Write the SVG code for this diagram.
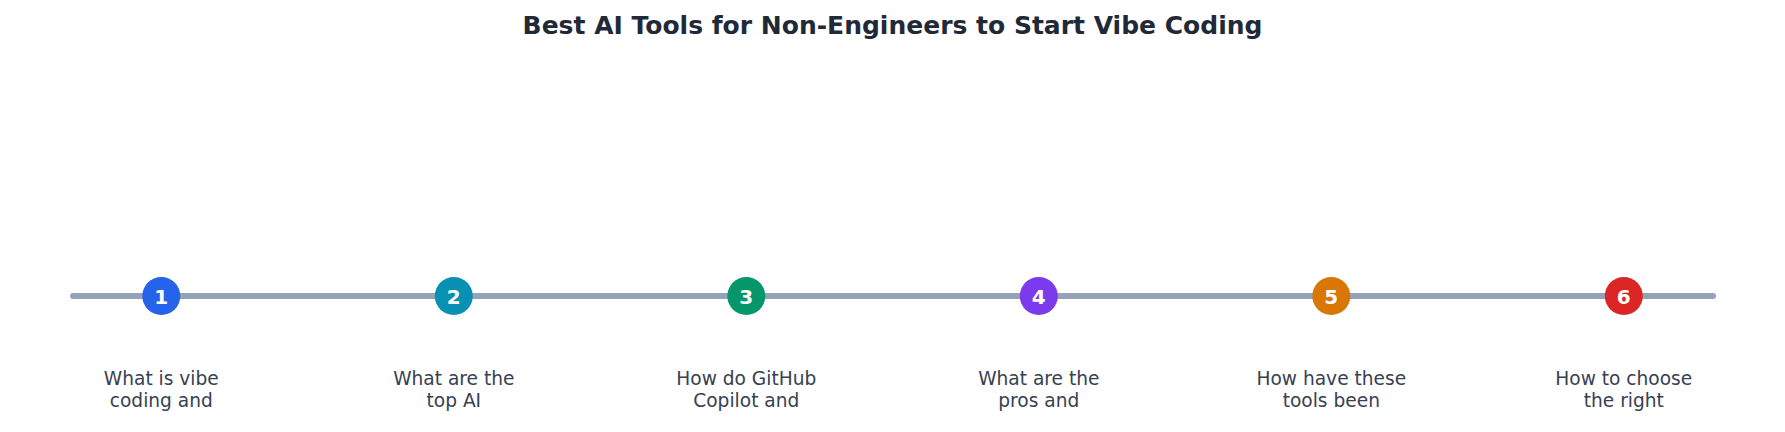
<svg xmlns="http://www.w3.org/2000/svg" width="1785" height="432" viewBox="0 0 1785 432">
<style>
.title{font-family:"DejaVu Sans",sans-serif;font-weight:bold;font-size:25px;fill:#1f2937;text-anchor:middle}
.num{font-family:"DejaVu Sans",sans-serif;font-weight:bold;font-size:20px;fill:#ffffff;text-anchor:middle;dominant-baseline:central}
.lbl{font-family:"DejaVu Sans",sans-serif;font-size:18.6px;fill:#374151;text-anchor:middle}
.dot{r:19px}
</style>
<rect width="1785" height="432" fill="#ffffff"/>
<text class="title" x="892.5" y="34">Best AI Tools for Non-Engineers to Start Vibe Coding</text>
<g id="connectors">
<line x1="73" y1="296" x2="1713" y2="296" stroke="#94a3b8" stroke-width="6" stroke-linecap="round"/>
</g>
<g id="node1">
<circle cx="161.3" cy="296" r="19" fill="#2563eb"/>
<text class="num" x="161.3" y="297">1</text>
<text class="lbl" x="161.3" y="385">What is vibe</text>
<text class="lbl" x="161.3" y="406.5">coding and</text>
</g>
<g id="node2">
<circle cx="453.8" cy="296" r="19" fill="#0891b2"/>
<text class="num" x="453.8" y="297">2</text>
<text class="lbl" x="453.8" y="385">What are the</text>
<text class="lbl" x="453.8" y="406.5">top AI</text>
</g>
<g id="node3">
<circle cx="746.3" cy="296" r="19" fill="#059669"/>
<text class="num" x="746.3" y="297">3</text>
<text class="lbl" x="746.3" y="385">How do GitHub</text>
<text class="lbl" x="746.3" y="406.5">Copilot and</text>
</g>
<g id="node4">
<circle cx="1038.8" cy="296" r="19" fill="#7c3aed"/>
<text class="num" x="1038.8" y="297">4</text>
<text class="lbl" x="1038.8" y="385">What are the</text>
<text class="lbl" x="1038.8" y="406.5">pros and</text>
</g>
<g id="node5">
<circle cx="1331.3" cy="296" r="19" fill="#d97706"/>
<text class="num" x="1331.3" y="297">5</text>
<text class="lbl" x="1331.3" y="385">How have these</text>
<text class="lbl" x="1331.3" y="406.5">tools been</text>
</g>
<g id="node6">
<circle cx="1623.8" cy="296" r="19" fill="#dc2626"/>
<text class="num" x="1623.8" y="297">6</text>
<text class="lbl" x="1623.8" y="385">How to choose</text>
<text class="lbl" x="1623.8" y="406.5">the right</text>
</g>
</svg>
